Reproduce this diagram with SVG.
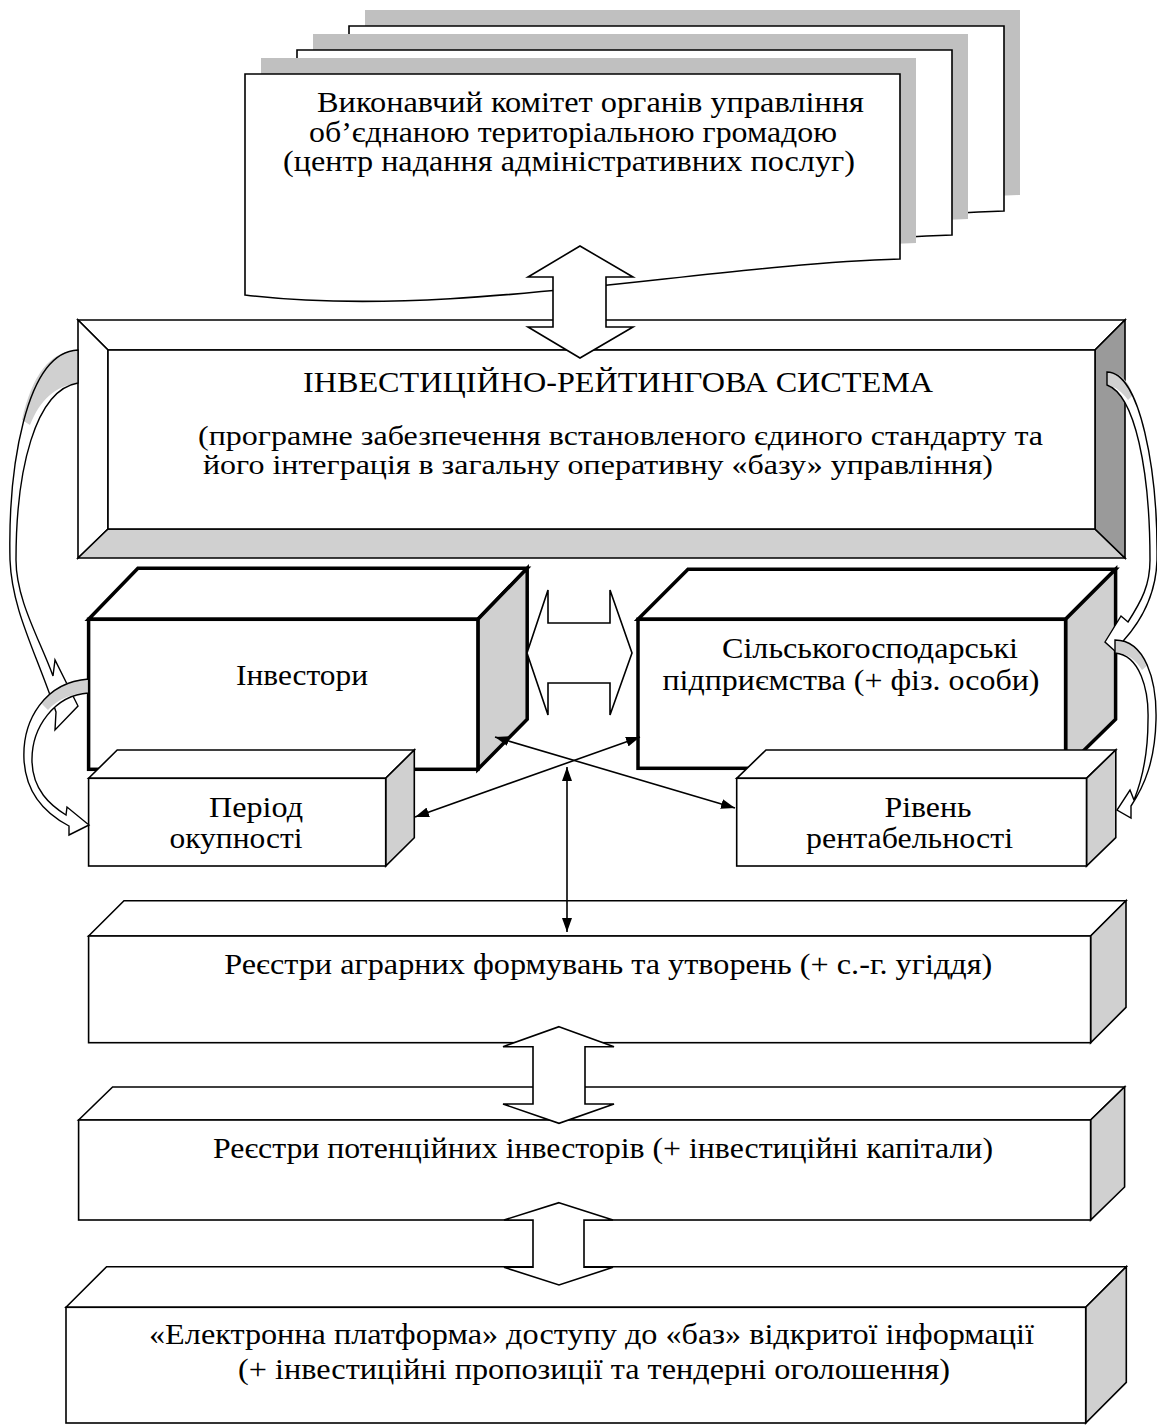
<svg xmlns="http://www.w3.org/2000/svg" width="1157" height="1426" viewBox="0 0 1157 1426">
<style>
.t{font-family:"Liberation Serif","Times New Roman",serif;font-size:30px;fill:#000}
.s{font-size:29px}
.xs{font-size:28px}
.ln{fill:#fff;stroke:#000;stroke-width:1.6;stroke-linejoin:miter}
.thick{fill:#fff;stroke:#000;stroke-width:3.5;stroke-linejoin:miter}
.sh{fill:#c0c0c0;stroke:none}
.con{stroke:#000;stroke-width:1.6;fill:none}
.nofill{fill:none;stroke:#000;stroke-width:1.4}
.wb{fill:#fff;stroke:none}
.gb{fill:#d0d0d0;stroke:none}
</style>
<defs>
<path id="doc" d="M245,74 H900 V259 C700,265 450,320 245,295 Z"/>
<marker id="ah" viewBox="0 0 14 10" refX="14" refY="5" markerWidth="14" markerHeight="10" markerUnits="userSpaceOnUse" orient="auto-start-reverse">
<path d="M0,0 L14,5 L0,10 Z" fill="#000"/>
</marker>
</defs>

<g id="executive-committee">
<use href="#doc" class="sh" transform="translate(120,-64)"/>
<use href="#doc" class="ln" transform="translate(104,-48)"/>
<use href="#doc" class="sh" transform="translate(68,-40)"/>
<use href="#doc" class="ln" transform="translate(52,-24)"/>
<use href="#doc" class="sh" transform="translate(16,-16)"/>
<use href="#doc" class="ln"/>
<text class="t s" x="590.5" y="112" text-anchor="middle" textLength="547" lengthAdjust="spacingAndGlyphs">Виконавчий комітет органів управління</text>
<text class="t s" x="573" y="142" text-anchor="middle" textLength="528" lengthAdjust="spacingAndGlyphs">об’єднаною територіальною громадою</text>
<text class="t s" x="569" y="171" text-anchor="middle" textLength="572" lengthAdjust="spacingAndGlyphs">(центр надання адміністративних послуг)</text>
</g>

<g id="rating-system">
<polygon class="ln" points="78,320 1125,320 1095,350 108,350"/>
<polygon class="ln" points="78,320 108,350 108,529 78,558"/>
<polygon class="ln" points="78,558 108,529 1095,529 1125,558" style="fill:#d0d0d0"/>
<polygon class="ln" points="1125,320 1125,558 1095,529 1095,350" style="fill:#9a9a9a"/>
<rect class="ln" x="108" y="350" width="987" height="179"/>
<text class="t" x="618" y="392" text-anchor="middle" textLength="630" lengthAdjust="spacingAndGlyphs">ІНВЕСТИЦІЙНО-РЕЙТИНГОВА СИСТЕМА</text>
<text class="t xs" x="620.5" y="445" text-anchor="middle" textLength="845" lengthAdjust="spacingAndGlyphs">(програмне забезпечення встановленого єдиного стандарту та</text>
<text class="t xs" x="598" y="474" text-anchor="middle" textLength="790" lengthAdjust="spacingAndGlyphs">його інтеграція в загальну оперативну «базу» управління)</text>
</g>

<g id="investors">
<polygon class="thick" points="88.6,619.3 137.9,568.3 527.2,568.3 477.9,619.3"/>
<polygon class="thick" points="477.9,619.3 527.2,568.3 527.2,719.3 477.9,769.3" style="fill:#d0d0d0"/>
<rect class="thick" x="88.6" y="619.3" width="389.3" height="150"/>
<text class="t" x="302" y="685" text-anchor="middle" textLength="132" lengthAdjust="spacingAndGlyphs">Інвестори</text>
</g>

<g id="agri-enterprises">
<polygon class="thick" points="638,619.3 688,569.3 1115.6,569.3 1065.6,619.3"/>
<polygon class="thick" points="1065.6,619.3 1115.6,569.3 1115.6,719.3 1065.6,768.3" style="fill:#d0d0d0"/>
<rect class="thick" x="638" y="619.3" width="427.6" height="149"/>
<text class="t" x="870" y="658" text-anchor="middle" textLength="296" lengthAdjust="spacingAndGlyphs">Сільськогосподарські</text>
<text class="t" x="851" y="690" text-anchor="middle" textLength="377" lengthAdjust="spacingAndGlyphs">підприємства (+ фіз. особи)</text>
</g>

<g id="payback-period">
<polygon class="ln" points="88.6,778.3 117.2,750 414.3,750 385.7,778.3"/>
<polygon class="ln" points="385.7,778.3 414.3,750 414.3,837.7 385.7,866" style="fill:#d0d0d0"/>
<rect class="ln" x="88.6" y="778.3" width="297.1" height="87.7"/>
<text class="t" x="256" y="816.7" text-anchor="middle" textLength="94" lengthAdjust="spacingAndGlyphs">Період</text>
<text class="t" x="236" y="848.3" text-anchor="middle" textLength="133" lengthAdjust="spacingAndGlyphs">окупності</text>
</g>

<g id="profitability">
<polygon class="ln" points="736.7,778.3 766,750 1115.8,750 1086.5,778.3"/>
<polygon class="ln" points="1086.5,778.3 1115.8,750 1115.8,837.7 1086.5,866" style="fill:#d0d0d0"/>
<rect class="ln" x="736.7" y="778.3" width="349.8" height="87.7"/>
<text class="t" x="928" y="816.7" text-anchor="middle" textLength="87" lengthAdjust="spacingAndGlyphs">Рівень</text>
<text class="t" x="909.5" y="848.3" text-anchor="middle" textLength="207" lengthAdjust="spacingAndGlyphs">рентабельності</text>
</g>

<g id="agrarian-registers">
<polygon class="ln" points="88.6,936 124,900.7 1126,900.7 1090.6,936"/>
<polygon class="ln" points="1090.6,936 1126,900.7 1126,1007.4 1090.6,1042.7" style="fill:#d0d0d0"/>
<rect class="ln" x="88.6" y="936" width="1002" height="106.7"/>
<text class="t" x="224.3" y="974" textLength="768" lengthAdjust="spacingAndGlyphs">Реєстри аграрних формувань та утворень (+ с.-г. угіддя)</text>
</g>

<g id="investor-registers">
<polygon class="ln" points="78.6,1120 112.6,1087 1124.6,1087 1090.6,1120"/>
<polygon class="ln" points="1090.6,1120 1124.6,1087 1124.6,1187 1090.6,1220" style="fill:#d0d0d0"/>
<rect class="ln" x="78.6" y="1120" width="1012" height="100"/>
<text class="t" x="603" y="1158" text-anchor="middle" textLength="780" lengthAdjust="spacingAndGlyphs">Реєстри потенційних інвесторів (+ інвестиційні капітали)</text>
</g>

<g id="e-platform">
<polygon class="ln" points="66,1307.3 106.6,1266.7 1126.3,1266.7 1085.7,1307.3"/>
<polygon class="ln" points="1085.7,1307.3 1126.3,1266.7 1126.3,1382.4 1085.7,1423" style="fill:#d0d0d0"/>
<rect class="ln" x="66" y="1307.3" width="1019.7" height="115.7"/>
<text class="t" x="591.5" y="1344" text-anchor="middle" textLength="885" lengthAdjust="spacingAndGlyphs">«Електронна платформа» доступу до «баз» відкритої інформації</text>
<text class="t" x="594" y="1378.5" text-anchor="middle" textLength="712" lengthAdjust="spacingAndGlyphs">(+ інвестиційні пропозиції та тендерні оголошення)</text>
</g>

<g id="connectors">
<polygon class="ln" points="580,246 633,277 606,277 606,327 633,327 580,358 528,327 553,327 553,277 528,277"/>
<polygon class="ln" points="527,653 548,590 548,623 610,623 610,590 632,653 610,715 610,683 548,683 548,715"/>
<polygon class="ln" points="559,1026.7 614,1046.7 585,1046.7 585,1104 614,1104 559,1123.3 503,1104 533,1104 533,1046.7 503,1046.7"/>
<polygon class="ln" points="559,1202.7 613,1220 584,1220 584,1267.3 613,1267.3 559,1285 504,1267.3 533,1267.3 533,1220 504,1220"/>
<line class="con" x1="415" y1="817" x2="640" y2="737" marker-start="url(#ah)" marker-end="url(#ah)"/>
<line class="con" x1="495" y1="737" x2="735" y2="808" marker-start="url(#ah)" marker-end="url(#ah)"/>
<line class="con" x1="567" y1="767" x2="567" y2="932" marker-start="url(#ah)" marker-end="url(#ah)"/>

<path class="wb" d="M78,350 C 25,352 8,470 10,560 C 12,610 35,650 56,712 L 55,730 L 78,706 L 55,660 L 53,676 C 40,640 16,600 16,560 C 16,470 35,390 78,383 Z"/>
<path class="gb" d="M78,350 C 50,351 32,375 22,420 L 30,425 C 40,400 55,386 78,383 Z"/>
<path class="nofill" d="M78,350 C 25,352 8,470 10,560 C 12,610 35,650 56,712 L 55,730 L 78,706 L 55,660 L 53,676 C 40,640 16,600 16,560 C 16,470 35,390 78,383 Z"/>

<path class="wb" d="M88.6,679 C 45,682 22,720 24,760 C 26,795 48,815 69,826 L 69,835 L 89,825 L 67,807 L 66,815 C 50,805 33,790 32,762 C 31,727 55,695 88.6,693 Z"/>
<path class="gb" d="M88.6,679 C 65,680 50,690 42,704 L 48,710 C 58,699 72,693 88.6,693 Z"/>
<path class="nofill" d="M88.6,679 C 45,682 22,720 24,760 C 26,795 48,815 69,826 L 69,835 L 89,825 L 67,807 L 66,815 C 50,805 33,790 32,762 C 31,727 55,695 88.6,693 Z"/>

<path class="wb" d="M1107,372 C 1140,372 1158,470 1157,560 C 1156,595 1140,622 1124,640 L 1116,652 L 1105,642 L 1121,616 L 1128,622 C 1142,600 1150,585 1150,560 C 1150,470 1135,395 1107,385 Z"/>
<path class="gb" d="M1107,372 C 1120,372 1128,380 1133,395 L 1128,400 C 1122,392 1115,386 1107,385 Z"/>
<path class="nofill" d="M1107,372 C 1140,372 1158,470 1157,560 C 1156,595 1140,622 1124,640 L 1116,652 L 1105,642 L 1121,616 L 1128,622 C 1142,600 1150,585 1150,560 C 1150,470 1135,395 1107,385 Z"/>

<path class="wb" d="M1115,640 C 1145,640 1157,680 1156,720 C 1155,760 1145,785 1131,806 L 1131,818 L 1117,810 L 1130,790 L 1134,800 C 1142,780 1148,755 1148,720 C 1149,690 1140,655 1115,653 Z"/>
<path class="gb" d="M1115,640 C 1130,640 1142,650 1148,665 L 1142,670 C 1136,660 1127,653 1115,653 Z"/>
<path class="nofill" d="M1115,640 C 1145,640 1157,680 1156,720 C 1155,760 1145,785 1131,806 L 1131,818 L 1117,810 L 1130,790 L 1134,800 C 1142,780 1148,755 1148,720 C 1149,690 1140,655 1115,653 Z"/>
</g>
</svg>
